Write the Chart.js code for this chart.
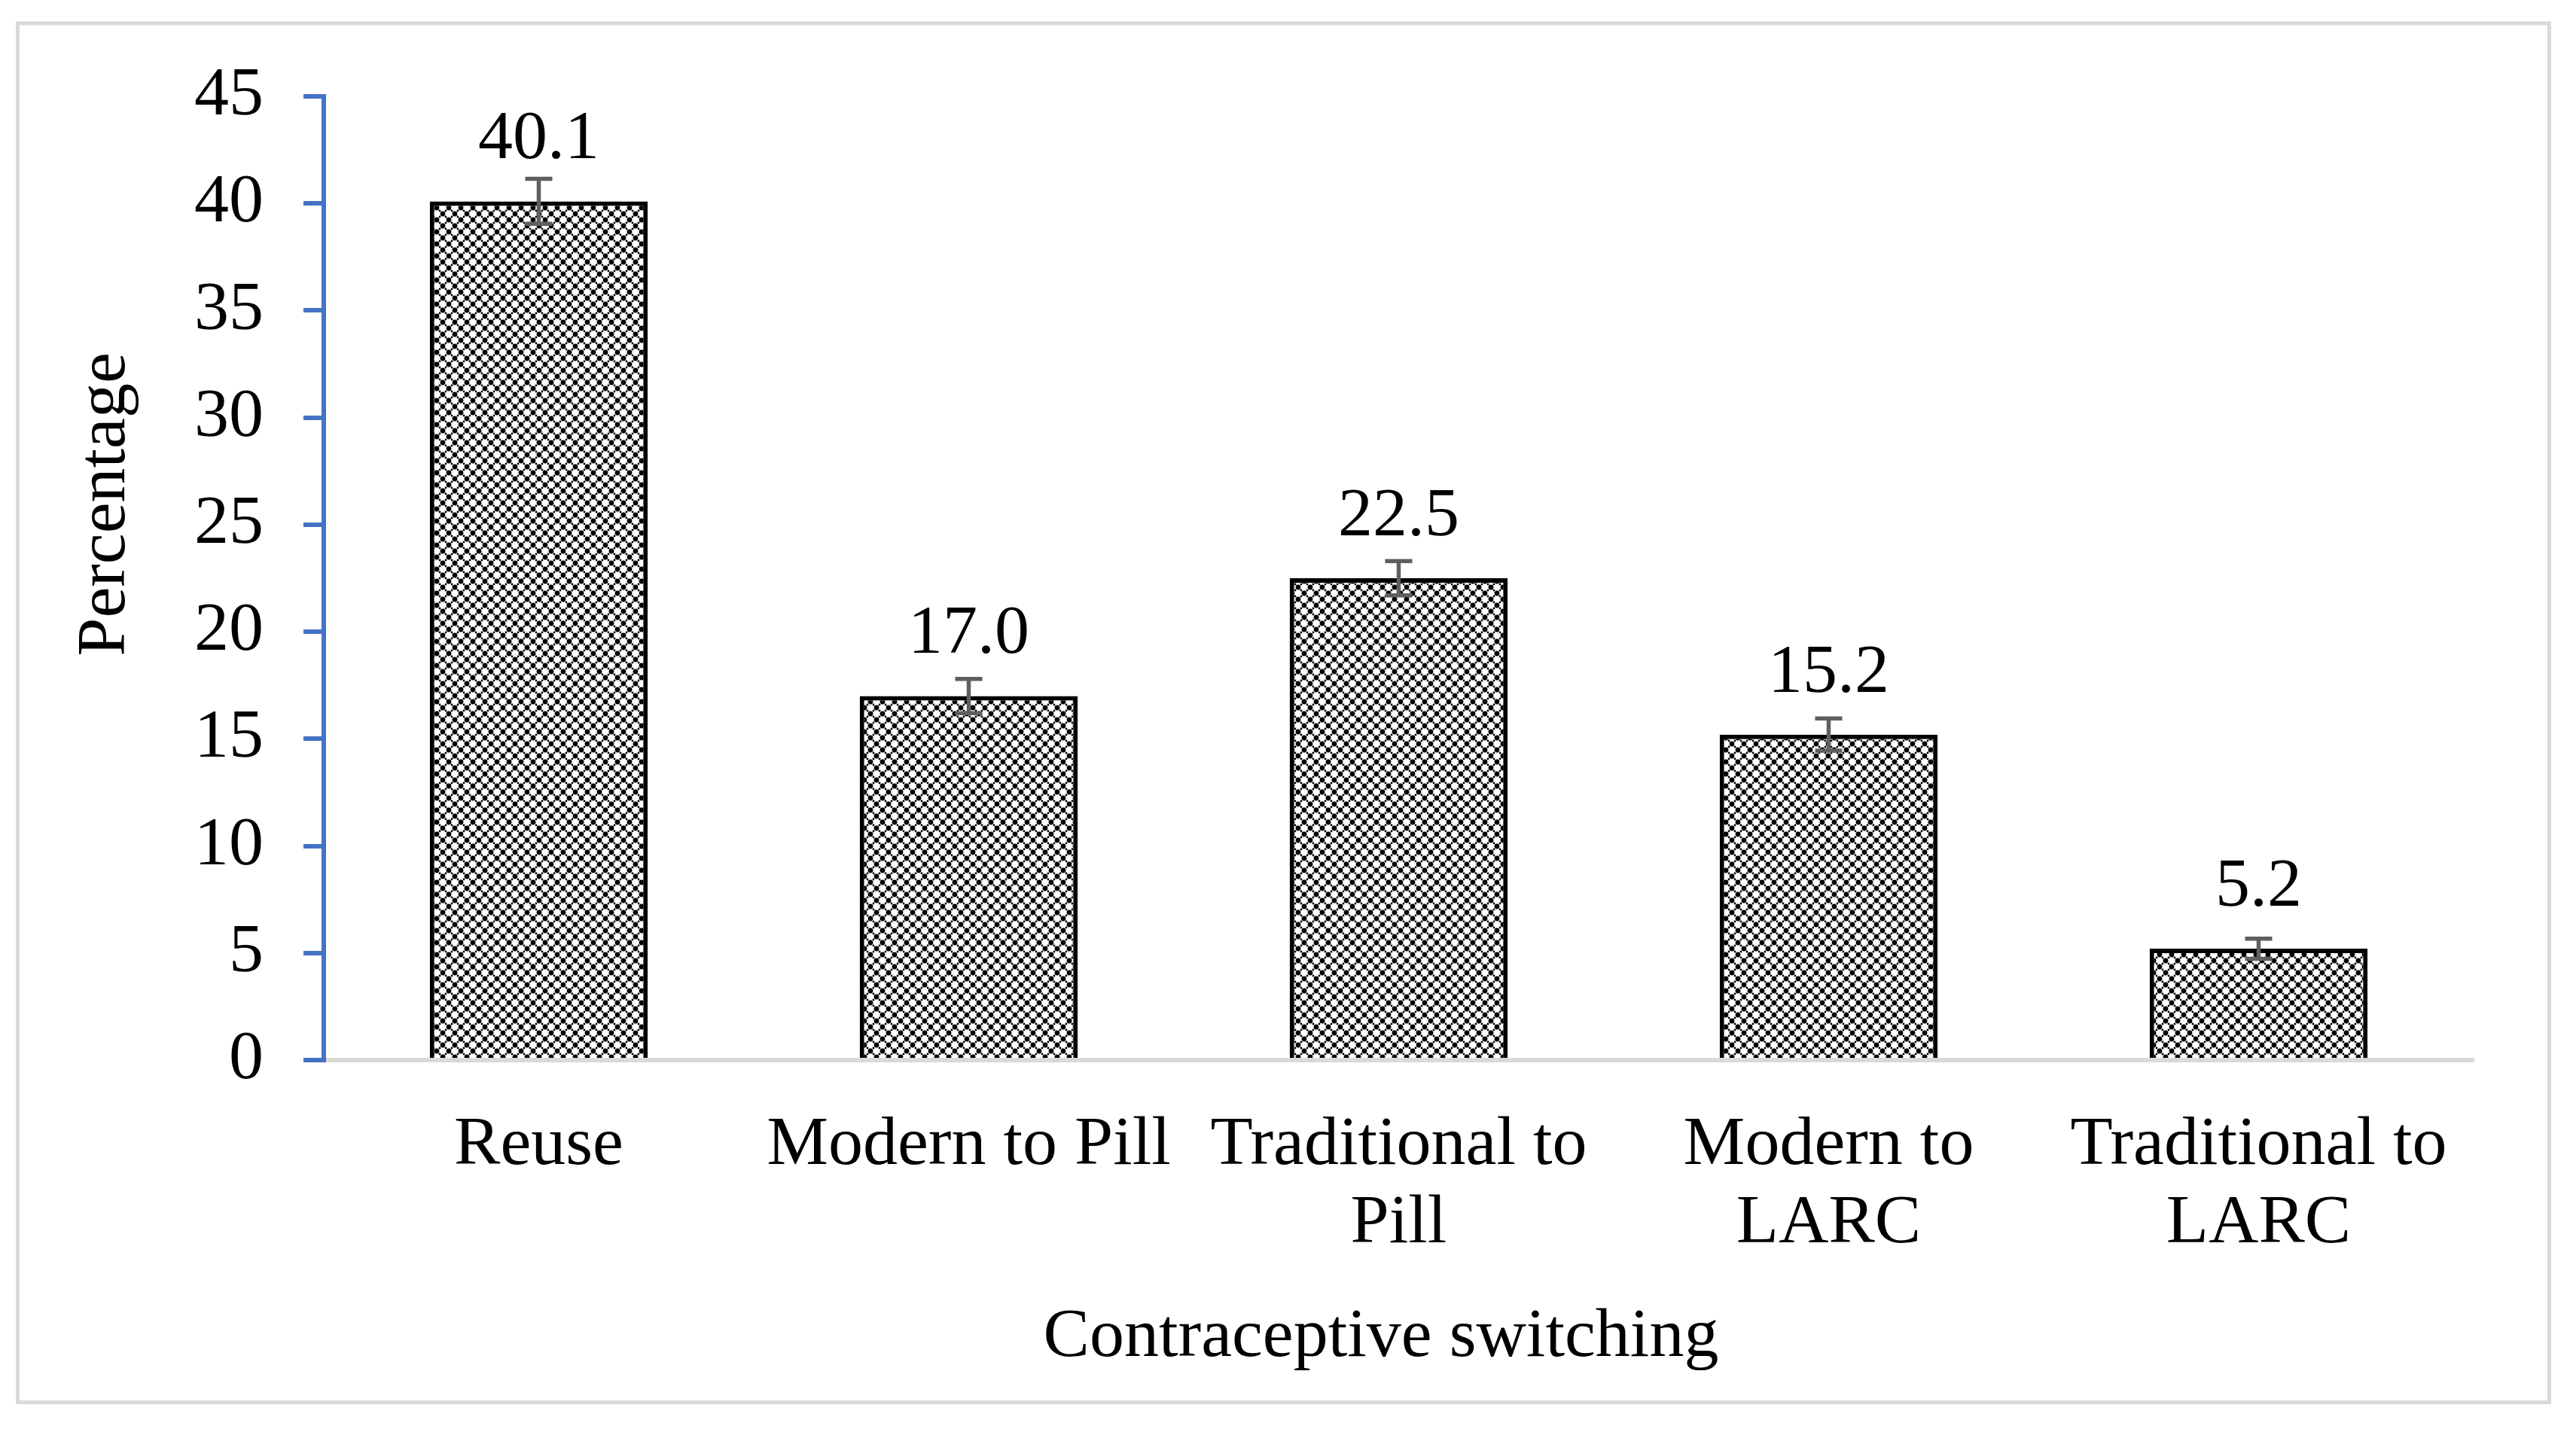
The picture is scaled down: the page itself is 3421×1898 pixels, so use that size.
<!DOCTYPE html>
<html lang="en">
<head>
  <meta charset="UTF-8">
  <title>Contraceptive switching</title>
  <script src="https://cdn.jsdelivr.net/npm/chart.js"></script>
  <style>
    html, body { margin: 0; padding: 0; background: #fff; }
    canvas { display: block; }
  </style>
</head>
<body>
  <canvas id="switchChart" width="3421" height="1898"></canvas>

  <script>
    // Chart data
    const categories = [['Reuse'], ['Modern to Pill'], ['Traditional to', 'Pill'], ['Modern to', 'LARC'], ['Traditional to', 'LARC']];
    const percentages = [40.1, 17.0, 22.5, 15.2, 5.2];
    const errorMargins = [1.05, 0.8, 0.8, 0.75, 0.47];
    const yTickValues = [0, 5, 10, 15, 20, 25, 30, 35, 40, 45];
    const xTitle = 'Contraceptive switching';
    const yTitle = 'Percentage';

    const FONT = '"Liberation Serif", "Times New Roman", serif';

    // small dotted fill like the Excel pattern (drawn 3x3 then blurred so it tiles cleanly)
    function makePattern(ctx) {
      const S = 16;
      const big = document.createElement('canvas');
      big.width = big.height = S * 3;
      const b = big.getContext('2d');
      b.fillStyle = '#fff';
      b.fillRect(0, 0, S * 3, S * 3);
      b.fillStyle = '#000';
      const dot = (x, y, r) => { b.beginPath(); b.arc(x, y, r, 0, Math.PI * 2); b.fill(); };
      for (let ox = 0; ox <= S * 3; ox += S) {
        for (let oy = 0; oy <= S * 3; oy += S) {
          dot(ox + 4, oy + 4, 3.4);
          dot(ox + 12, oy + 12, 3.4);
          dot(ox, oy, 1.4);
          dot(ox + 8, oy, 1.4);
          dot(ox, oy + 8, 1.4);
          dot(ox + 8, oy + 8, 1.4);
        }
      }
      const soft = document.createElement('canvas');
      soft.width = soft.height = S * 3;
      const s = soft.getContext('2d');
      s.filter = 'blur(0.6px)';
      s.drawImage(big, 0, 0);
      const tile = document.createElement('canvas');
      tile.width = tile.height = S;
      tile.getContext('2d').drawImage(soft, S, S, S, S, 0, 0, S, S);
      return ctx.createPattern(tile, 'repeat');
    }

    // outer frame and white background
    const frame = {
      id: 'frame',
      beforeDraw(chart) {
        const ctx = chart.ctx;
        ctx.save();
        ctx.fillStyle = '#fff';
        ctx.fillRect(0, 0, chart.width, chart.height);
        ctx.strokeStyle = '#d9d9d9';
        ctx.lineWidth = 5;
        ctx.strokeRect(23.5, 31, 3362, 1831.5);
        ctx.restore();
      }
    };

    // error bars and value labels
    const barExtras = {
      id: 'barExtras',
      afterDatasetsDraw(chart) {
        const ctx = chart.ctx;
        const y = chart.scales.y;
        const meta = chart.getDatasetMeta(0);
        ctx.save();
        meta.data.forEach((bar, i) => {
          const v = percentages[i];
          const e = errorMargins[i];
          const top = y.getPixelForValue(v + e);
          const bot = y.getPixelForValue(v - e);
          ctx.strokeStyle = '#5f5f5f';
          ctx.lineWidth = 5.5;
          ctx.beginPath();
          ctx.moveTo(bar.x, top);
          ctx.lineTo(bar.x, bot);
          ctx.moveTo(bar.x - 18, top);
          ctx.lineTo(bar.x + 18, top);
          ctx.moveTo(bar.x - 18, bot);
          ctx.lineTo(bar.x + 18, bot);
          ctx.stroke();

          ctx.fillStyle = '#000';
          ctx.font = '92px ' + FONT;
          ctx.textAlign = 'center';
          ctx.textBaseline = 'alphabetic';
          ctx.fillText(v.toFixed(1), bar.x, bar.y - 57);
        });
        ctx.restore();
      }
    };

    const axisTitles = {
      id: 'axisTitles',
      afterDraw(chart) {
        const ctx = chart.ctx;
        ctx.save();
        ctx.fillStyle = '#000';
        ctx.font = '92px ' + FONT;
        ctx.textAlign = 'center';
        ctx.textBaseline = 'alphabetic';
        ctx.fillText(xTitle, 1834, 1801);
        ctx.translate(165, 670);
        ctx.rotate(-Math.PI / 2);
        ctx.fillText(yTitle, 0, 0);
        ctx.restore();
      }
    };

    const ctx = document.getElementById('switchChart').getContext('2d');
    new Chart(ctx, {
      type: 'bar',
      data: {
        labels: categories,
        datasets: [{
          data: percentages,
          backgroundColor: makePattern(ctx),
          borderColor: '#000',
          borderWidth: 6,
          borderSkipped: 'bottom',
          categoryPercentage: 1,
          barPercentage: 0.507,
        }],
      },
      options: {
        responsive: false,
        devicePixelRatio: 1,
        animation: false,
        layout: { padding: { top: 128, right: 136, bottom: 0, left: 0 } },
        plugins: {
          legend: { display: false },
          tooltip: { enabled: false },
        },
        scales: {
          x: {
            z: 1,
            grid: { display: false, drawTicks: false, tickLength: 0 },
            border: { display: true, color: '#d9d9d9', width: 6 },
            ticks: {
              color: '#000',
              padding: 61,
              maxRotation: 0,
              autoSkip: false,
              font: { family: FONT, size: 92, lineHeight: 1.14 },
            },
            afterFit(scale) { scale.height = 490; },
          },
          y: {
            min: 0,
            max: 45,
            afterBuildTicks(scale) { scale.ticks = yTickValues.map(v => ({ value: v })); },
            grid: { display: true, drawOnChartArea: false, drawTicks: true, tickLength: 27, color: '#4472c4', lineWidth: 6 },
            border: { display: true, color: '#4472c4', width: 6 },
            ticks: {
              color: '#000',
              padding: 53,
              font: { family: FONT, size: 92 },
            },
            afterFit(scale) { scale.width = 430; },
          },
        },
      },
      plugins: [frame, barExtras, axisTitles],
    });
  </script>
</body>
</html>
